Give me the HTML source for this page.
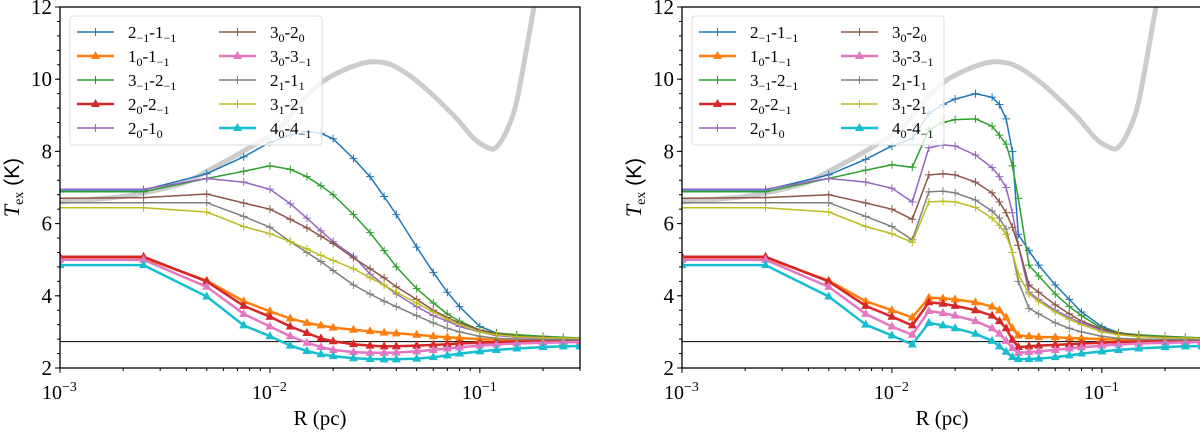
<!DOCTYPE html>
<html><head><meta charset="utf-8"><style>
body{margin:0;background:#fff;}
svg text{font-family:"Liberation Serif",serif;}
</style></head><body>
<svg id="chart" width="1200" height="431" xmlns="http://www.w3.org/2000/svg"></svg>
<script>
const seriesNames=["2_{−1}-1_{−1}","1_0-1_{−1}","3_{−1}-2_{−1}","2_0-2_{−1}","2_0-1_0","3_0-2_0","3_0-3_{−1}","2_1-1_1","3_1-2_1","4_0-4_{−1}"];
const seriesColors=["#1f77b4","#ff7f0e","#2ca02c","#d62728","#9467bd","#8c564b","#e377c2","#7f7f7f","#bcbd22","#17becf"];
const seriesMarkers=["+","^","+","^","+","+","^","+","+","^"];
const xTicks=[0.001,0.01,0.1];
const xTickLabels=["−3","−2","−1"];
const yTicks=[2,4,6,8,10,12];
const cmbT=2.73;
const grayR=[0.001,0.002,0.003,0.004,0.005,0.0065,0.0085,0.011,0.014,0.018,0.024,0.03,0.037,0.045,0.055,0.075,0.094,0.11,0.12,0.135,0.15,0.17,0.185];
const grayT=[6.6,6.75,6.95,7.15,7.45,7.8,8.2,8.6,9.35,9.95,10.32,10.48,10.42,10.15,9.75,9.0,8.35,8.1,8.12,8.6,9.4,11.1,12.3];
const leftR=[0.001,0.0025,0.005,0.0075,0.01,0.0125,0.015,0.0175,0.02,0.025,0.03,0.035,0.04,0.05,0.06,0.07,0.08,0.1,0.12,0.15,0.2,0.25,0.3];
const left_2m1=[6.93,6.93,7.38,7.85,8.25,8.45,8.55,8.5,8.35,7.8,7.3,6.75,6.25,5.35,4.65,4.1,3.7,3.15,2.97,2.9,2.86,2.84,2.82];
const left_10=[5.05,5.05,4.42,3.85,3.57,3.37,3.25,3.18,3.12,3.06,3.02,2.98,2.96,2.92,2.88,2.85,2.83,2.8,2.78,2.77,2.77,2.77,2.77];
const left_3m1=[6.88,6.88,7.25,7.45,7.6,7.5,7.3,7.05,6.8,6.25,5.75,5.25,4.8,4.2,3.8,3.5,3.3,3.05,2.97,2.92,2.88,2.85,2.83];
const left_202=[5.08,5.08,4.4,3.72,3.42,3.15,2.97,2.82,2.74,2.66,2.62,2.6,2.6,2.62,2.64,2.66,2.68,2.7,2.72,2.73,2.74,2.74,2.74];
const left_201=[6.95,6.95,7.25,7.15,6.95,6.55,6.15,5.8,5.5,5.1,4.6,4.3,4.05,3.7,3.45,3.3,3.15,3.0,2.9,2.85,2.83,2.82,2.81];
const left_302=[6.7,6.72,6.82,6.57,6.4,6.12,5.88,5.65,5.45,5.05,4.75,4.5,4.25,3.9,3.6,3.4,3.25,3.05,2.95,2.88,2.85,2.83,2.82];
const left_303=[5.0,5.0,4.25,3.5,3.15,2.88,2.7,2.58,2.5,2.44,2.42,2.42,2.43,2.46,2.5,2.54,2.57,2.62,2.65,2.68,2.7,2.71,2.72];
const left_211=[6.58,6.58,6.58,6.2,5.9,5.5,5.2,4.95,4.7,4.3,4.05,3.85,3.7,3.45,3.25,3.1,3.0,2.88,2.82,2.8,2.79,2.78,2.78];
const left_312=[6.44,6.44,6.32,5.92,5.72,5.5,5.3,5.12,4.98,4.75,4.5,4.3,4.1,3.8,3.55,3.35,3.2,3.0,2.92,2.87,2.84,2.83,2.82];
const left_404=[4.85,4.85,3.98,3.18,2.88,2.62,2.47,2.38,2.33,2.27,2.25,2.24,2.24,2.26,2.3,2.35,2.4,2.46,2.5,2.54,2.58,2.6,2.6];
const rightR=[0.001,0.0025,0.005,0.0075,0.01,0.0125,0.015,0.0175,0.02,0.025,0.03,0.0325,0.035,0.0375,0.04,0.045,0.05,0.06,0.07,0.08,0.1,0.12,0.15,0.2,0.25,0.3];
const right_2m1=[6.93,6.93,7.35,7.78,8.15,8.35,9.05,9.3,9.45,9.6,9.5,9.3,8.9,8.0,5.7,5.25,4.85,4.3,3.9,3.55,3.15,2.98,2.9,2.87,2.85,2.83];
const right_10=[5.05,5.05,4.42,3.85,3.6,3.4,3.95,3.93,3.9,3.82,3.7,3.6,3.4,3.1,2.9,2.88,2.86,2.85,2.83,2.82,2.8,2.78,2.77,2.77,2.77,2.77];
const right_3m1=[6.88,6.88,7.25,7.48,7.63,7.56,8.6,8.8,8.88,8.9,8.7,8.45,8.2,7.6,6.7,4.85,4.55,4.05,3.7,3.45,3.1,2.97,2.92,2.88,2.85,2.83];
const right_202=[5.08,5.08,4.4,3.72,3.42,3.18,3.82,3.78,3.72,3.6,3.45,3.3,3.1,2.78,2.58,2.6,2.62,2.64,2.66,2.68,2.7,2.72,2.73,2.74,2.74,2.74];
const right_201=[6.95,6.95,7.25,7.15,6.98,6.6,8.1,8.18,8.15,7.9,7.55,7.3,7.0,6.3,5.4,4.1,3.9,3.6,3.4,3.25,3.05,2.93,2.87,2.84,2.82,2.81];
const right_302=[6.7,6.72,6.8,6.57,6.4,6.12,7.35,7.38,7.35,7.15,6.85,6.6,6.3,5.9,5.4,4.3,4.1,3.75,3.5,3.3,3.08,2.96,2.89,2.85,2.83,2.82];
const right_303=[5.0,5.0,4.25,3.5,3.15,2.92,3.58,3.52,3.45,3.3,3.1,2.95,2.75,2.55,2.42,2.44,2.46,2.5,2.54,2.57,2.62,2.65,2.68,2.7,2.71,2.72];
const right_211=[6.58,6.58,6.58,6.2,5.92,5.55,6.88,6.9,6.85,6.65,6.35,6.15,5.85,5.2,4.4,3.65,3.5,3.25,3.1,3.0,2.88,2.82,2.8,2.79,2.78,2.78];
const right_312=[6.44,6.44,6.32,5.92,5.72,5.48,6.6,6.62,6.6,6.45,6.15,5.95,5.7,5.2,4.6,4.05,3.85,3.55,3.35,3.2,3.0,2.92,2.87,2.84,2.83,2.82];
const right_404=[4.85,4.85,3.98,3.2,2.9,2.65,3.25,3.18,3.1,2.95,2.75,2.6,2.45,2.3,2.25,2.25,2.26,2.3,2.35,2.4,2.46,2.5,2.54,2.58,2.6,2.6];

const leftSeries=[left_2m1,left_10,left_3m1,left_202,left_201,left_302,left_303,left_211,left_312,left_404];
const rightSeries=[right_2m1,right_10,right_3m1,right_202,right_201,right_302,right_303,right_211,right_312,right_404];

const NS="http://www.w3.org/2000/svg";
const svg=document.getElementById('chart');
function mk(tag,attrs,parent){const e=document.createElementNS(NS,tag);for(const k in attrs)e.setAttribute(k,attrs[k]);(parent||svg).appendChild(e);return e;}

function labelInto(t,s){
  const re=/([^_]+)|_\{([^}]*)\}|_(.)/g;let m;
  while((m=re.exec(s))){
    if(m[1]!==undefined){const ts=mk('tspan',{},t);ts.textContent=m[1];}
    else{const sub=m[2]!==undefined?m[2]:m[3];const ts=mk('tspan',{'font-size':'12','dy':'4'},t);ts.textContent=sub;const r=mk('tspan',{'dy':'-4'},t);r.textContent='\u200b';}
  }
}

function smoothPath(pts){
  let d='M'+pts[0][0].toFixed(1)+','+pts[0][1].toFixed(1);
  for(let i=0;i<pts.length-1;i++){
    const p0=pts[i-1]||pts[i],p1=pts[i],p2=pts[i+1],p3=pts[i+2]||p2;
    const c1x=p1[0]+(p2[0]-p0[0])/6,c1y=p1[1]+(p2[1]-p0[1])/6;
    const c2x=p2[0]-(p3[0]-p1[0])/6,c2y=p2[1]-(p3[1]-p1[1])/6;
    d+=`C${c1x.toFixed(1)},${c1y.toFixed(1)} ${c2x.toFixed(1)},${c2y.toFixed(1)} ${p2[0].toFixed(1)},${p2[1].toFixed(1)}`;
  }
  return d;
}

function panel(x0,name,R,series){
  const x1=x0+520, yT=7, yB=368;
  const lx=v=>x0+(Math.log10(v)+3)*(520/2.4771);
  const ly=v=>yB-(v-2)*(yB-yT)/10;
  const g=mk('g',{});
  
  
  const clipId='clip-'+name;
  const cp=mk('clipPath',{id:clipId},g);mk('rect',{x:x0,y:yT,width:x1-x0,height:yB-yT},cp);
  const plot=mk('g',{'clip-path':'url(#'+clipId+')'},g);
  const gp=mk('path',{d:smoothPath(grayR.map((r,i)=>[lx(r),ly(grayT[i])])),fill:'none',stroke:'#cccccc','stroke-width':5,'stroke-linejoin':'round'},plot);
  
  
  const hl=mk('line',{x1:x0,x2:x1,y1:ly(cmbT),y2:ly(cmbT),stroke:'#000','stroke-width':1},plot);
  
  
  series.forEach((vals,si)=>{
    const sg=mk('g',{},plot);
    
    
    const c=seriesColors[si];
    const tri=seriesMarkers[si]==='^';
    mk('path',{d:vals.map((v,i)=>(i?'L':'M')+lx(R[i]).toFixed(1)+','+ly(v).toFixed(1)).join(''),fill:'none',stroke:c,'stroke-width':tri?2.5:1.5},sg);
    vals.forEach((v,i)=>{
      const px=lx(R[i]),py=ly(v);
      let m;
      if(tri) m=mk('path',{d:`M${px},${py-5}L${px+4.5},${py+3}L${px-4.5},${py+3}Z`,fill:c},sg);
      else m=mk('path',{d:`M${px-4},${py}H${px+4}M${px},${py-4}V${py+4}`,stroke:c,'stroke-width':1},sg);
      
      
    });
  });
  const fr=mk('rect',{x:x0,y:yT,width:x1-x0,height:yB-yT,fill:'none',stroke:'#000','stroke-width':1.3},g);
  
  
  for(let d=-3;d<=-1;d++)for(let k=1;k<=9;k++){
    const v=k*Math.pow(10,d);if(v>0.3)break;const px=lx(v);
    mk('line',{x1:px,x2:px,y1:yB,y2:yB+(k===1?5:3),stroke:'#000','stroke-width':1},g);
  }
  for(let k=2;k<=3;k++){const px=lx(k*0.1);mk('line',{x1:px,x2:px,y1:yB,y2:yB+3,stroke:'#000'},g);}
  xTicks.forEach((v,i)=>{
    const t=mk('text',{x:lx(v)-18,y:yB+31,'font-size':'20'},g);
    
    
    const a=mk('tspan',{},t);a.textContent='10';
    const b=mk('tspan',{'font-size':'14','dy':'-8'},t);b.textContent=xTickLabels[i];
  });
  for(let v=2;v<=12.001;v+=0.4){const py=ly(v);mk('line',{x1:x0-3,x2:x0,y1:py,y2:py,stroke:'#000'},g);}
  yTicks.forEach(v=>{
    const py=ly(v);mk('line',{x1:x0-5,x2:x0,y1:py,y2:py,stroke:'#000'},g);
    const t=mk('text',{x:x0-8,y:py+7,'font-size':'21','text-anchor':'end'},g);
    
    
    t.textContent=v;
  });
  const xt=mk('text',{x:x0+260,y:425,'font-size':'21','text-anchor':'middle','font-family':'Liberation Sans, sans-serif'},g);
  
  
  xt.textContent='R (pc)';
  const yt=mk('text',{transform:`translate(${x0-41},${(yT+yB)/2}) rotate(-90)`,'font-size':'22','text-anchor':'middle'},g);
  
  
  const y1=mk('tspan',{'font-style':'italic'},yt);y1.textContent='T';
  const y2=mk('tspan',{'font-size':'14','dy':'4'},yt);y2.textContent='ex';
  const y3=mk('tspan',{'dy':'-4','font-family':'Liberation Sans, sans-serif','font-size':'21'},yt);y3.textContent=' (K)';
  const lg=mk('g',{},g);
  
  
  mk('rect',{x:x0+10,y:16,width:252,height:129,rx:3,fill:'#fff','fill-opacity':0.8,stroke:'#ddd'},lg);
  seriesNames.forEach((nm,si)=>{
    const col=si<5?0:1,row=si%5;
    const bx=x0+17+col*142,by=32+row*24;
    const e=mk('g',{},lg);
    
    
    const c=seriesColors[si],tri=seriesMarkers[si]==='^';
    mk('line',{x1:bx,x2:bx+37,y1:by,y2:by,stroke:c,'stroke-width':tri?2.5:1.5},e);
    const mx=bx+18.5;
    if(tri)mk('path',{d:`M${mx},${by-5}L${mx+4.5},${by+3}L${mx-4.5},${by+3}Z`,fill:c},e);
    else mk('path',{d:`M${mx-4},${by}H${mx+4}M${mx},${by-4}V${by+4}`,stroke:c},e);
    const t=mk('text',{x:bx+51,y:by+6,'font-size':'17','font-family':'Liberation Sans, sans-serif'},e);
    labelInto(t,nm);
  });
}
panel(60,'left-panel',leftR,leftSeries);
panel(682,'right-panel',rightR,rightSeries);
</script>
</body></html>
